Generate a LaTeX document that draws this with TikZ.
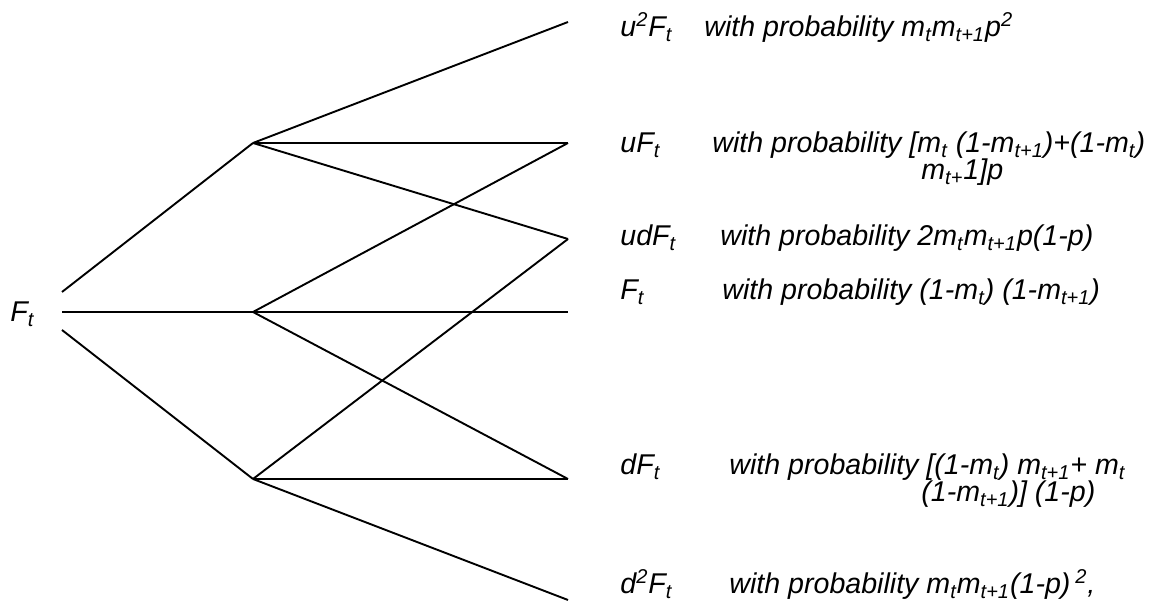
\documentclass[tikz,border=0pt]{standalone}
\usepackage{fontspec}
\setmainfont{Liberation Sans}
\begin{document}
\begin{tikzpicture}[x=0.5pt,y=-0.5pt,
  edge/.style={line width=0.95pt},
  lbl/.style={anchor=base west,inner sep=0pt,font=\fontsize{14.3}{17}\selectfont\itshape}]
\useasboundingbox (0,0) rectangle (1152,613);
% tree points
\coordinate (S1) at (62,292);
\coordinate (S2) at (62,312);
\coordinate (S3) at (62,330);
\coordinate (U) at (253,143);
\coordinate (M) at (253,312);
\coordinate (L) at (253,479);
\coordinate (T1) at (568,22);
\coordinate (T2) at (568,143);
\coordinate (T3) at (568,239);
\coordinate (T4) at (568,312);
\coordinate (T5) at (568,479);
\coordinate (T6) at (568,600);
% connectors
\draw[edge] (S1) -- (U);
\draw[edge] (S2) -- (M);
\draw[edge] (S3) -- (L);
\draw[edge] (U) -- (T1);
\draw[edge] (U) -- (T2);
\draw[edge] (U) -- (T3);
\draw[edge] (M) -- (T2);
\draw[edge] (M) -- (T4);
\draw[edge] (M) -- (T5);
\draw[edge] (L) -- (T3);
\draw[edge] (L) -- (T5);
\draw[edge] (L) -- (T6);
% labels
\node[lbl] (F0) at (10,322) {F\textsubscript{t}};
\node[lbl] (a1) at (620,37) {u\textsuperscript{2}F\textsubscript{t}};
\node[lbl] (b1) at (704,37) {with probability m\textsubscript{t}m\textsubscript{t+1}p\textsuperscript{2}};
\node[lbl] (a2) at (620,153) {uF\textsubscript{t}};
\node[lbl] (b2) at (712,153) {with probability [m\textsubscript{t} (1-m\textsubscript{t+1})+(1-m\textsubscript{t})};
\node[lbl] (c2) at (921,180) {m\textsubscript{t+}1]p};
\node[lbl] (a3) at (620,246) {udF\textsubscript{t}};
\node[lbl] (b3) at (720,246) {with probability 2m\textsubscript{t}m\textsubscript{t+1}p(1-p)};
\node[lbl] (a4) at (620,300) {F\textsubscript{t}};
\node[lbl] (b4) at (722,300) {with probability (1-m\textsubscript{t}) (1-m\textsubscript{t+1})};
\node[lbl] (a5) at (620,475) {dF\textsubscript{t}};
\node[lbl] (b5) at (729,475) {with probability [(1-m\textsubscript{t}) m\textsubscript{t+1}+ m\textsubscript{t}};
\node[lbl] (c5) at (921,502) {(1-m\textsubscript{t+1})] (1-p)};
\node[lbl] (a6) at (620,594) {d\textsuperscript{2}F\textsubscript{t}};
\node[lbl] (b6) at (729,594) {with probability m\textsubscript{t}m\textsubscript{t+1}(1-p)\,\textsuperscript{2},};
\end{tikzpicture}
\end{document}
